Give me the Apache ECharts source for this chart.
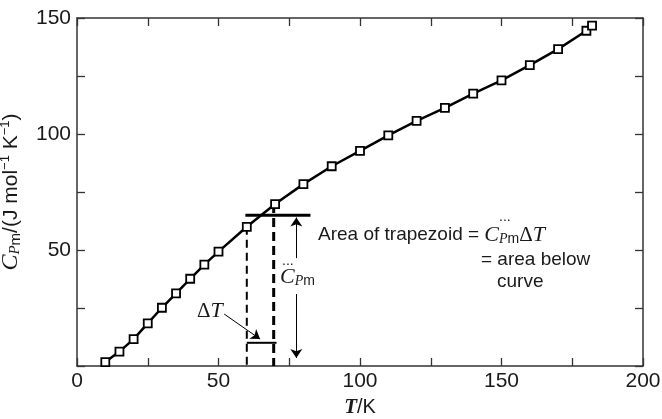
<!DOCTYPE html>
<html><head><meta charset="utf-8">
<script src="https://cdn.jsdelivr.net/npm/echarts@6/dist/echarts.min.js"></script>
<style>html,body{margin:0;padding:0;background:#fff}#c{width:662px;height:419px}</style>
</head><body><div id="c"></div>
<script>
// ---- data ----
const temperatures = [10,15,20,25,30,35,40,45,50,60,70,80,90,100,110,120,130,140,150,160,170,180,182];
const heatCapacity = [1.7,6.2,11.6,18.4,25.1,31.3,37.6,43.7,49.3,60.0,69.8,78.4,86.1,92.7,99.4,105.7,111.3,117.4,123.1,129.7,136.6,144.5,146.7];
const xTickLabels = [0,50,100,150,200];
const yTickLabels = [50,100,150];
// annotation geometry (data units)
const trapezoidTop = [[59.5,65],[82.5,65]];
const lowerEdge = [[60,60],[60,0]];
const upperEdge = [[69.5,69.8],[69.5,0]];
const deltaTBar = [[60,10],[70.5,10]];
const cArrowUp = [[77.5,46.5],[77.5,64]];
const cArrowDown = [[77.5,31],[77.5,3.5]];
const dTArrow = [[52,22.4],[64.7,11.6]];

const SANS = 'Liberation Sans, Arial, sans-serif';
const SERIF = 'Liberation Serif, Times New Roman, serif';
const AX = '#333';
const TXT = '#1a1a1a';
const chart = echarts.init(document.getElementById('c'), null, {renderer:'canvas'});

function xAxisDef(pos, labels) {
  return {
    type:'value', position:pos, min:0, max:200, interval:25,
    axisLine:{show:true, onZero:false, lineStyle:{color:AX, width:1.5}},
    axisTick:{show:true, inside:true, length:8, lineStyle:{color:AX, width:1.3}},
    splitLine:{show:false},
    axisLabel:{show:labels, margin:5, color:TXT, fontFamily:SANS, fontSize:21,
      formatter:v => xTickLabels.includes(v) ? String(v) : ''},
    name: labels ? '{t|T}{n|/K}' : '',
    nameLocation:'middle', nameGap:30,
    nameTextStyle:{rich:{
      t:{fontFamily:SERIF, fontStyle:'italic', fontWeight:'bold', fontSize:21, color:TXT},
      n:{fontFamily:SANS, fontSize:20, color:TXT}}}
  };
}
function yAxisDef(pos, labels) {
  return {
    type:'value', position:pos, min:0, max:150, interval:25,
    axisLine:{show:true, onZero:false, lineStyle:{color:AX, width:1.5}},
    axisTick:{show:true, inside:true, length:8, lineStyle:{color:AX, width:1.3}},
    splitLine:{show:false},
    axisLabel:{show:labels, margin:6, color:TXT, fontFamily:SANS, fontSize:21,
      formatter:v => yTickLabels.includes(v) ? String(v) : ''},
    name: labels ? '{c|C}{s|P}{m|m}{n|/(J mol}{p|−1}{n| K}{p|−1}{n|)}' : '',
    nameLocation:'middle', nameGap:54, nameRotate:90,
    nameTextStyle:{rich:{
      c:{fontFamily:SERIF, fontStyle:'italic', fontSize:24, color:TXT},
      s:{fontFamily:SERIF, fontStyle:'italic', fontSize:15, color:TXT, verticalAlign:'bottom'},
      m:{fontFamily:SANS, fontSize:15, color:TXT, verticalAlign:'bottom'},
      n:{fontFamily:SANS, fontSize:21, color:TXT},
      p:{fontFamily:SANS, fontSize:13, color:TXT, verticalAlign:'top'}}}
  };
}
function seg(data, width, type) {
  return {type:'line', data:data, symbol:'none', silent:true, animation:false,
    lineStyle:{color:'#000', width:width, type:type||'solid', cap:'butt'}, z:2};
}
function arrow(pts) {
  return [{coord:pts[0], symbol:'none'}, {coord:pts[1], symbol:'arrow'}];
}

const option = {
  animation:false,
  grid:{left:77, right:19, top:18, bottom:53, containLabel:false, outerBoundsMode:'none'},
  xAxis:[xAxisDef('bottom', true), xAxisDef('top', false)],
  yAxis:[yAxisDef('left', true), yAxisDef('right', false)],
  series:[
    seg(trapezoidTop, 3),
    seg(lowerEdge, 2, [8,5]),
    seg(upperEdge, 3, [9,5]),
    seg(deltaTBar, 2),
    {type:'line', data:[], silent:true, animation:false,
      markLine:{silent:true, animation:false, symbolSize:9,
        label:{show:false}, lineStyle:{color:'#000', width:1, type:'solid'},
        emphasis:{disabled:true},
        data:[arrow(cArrowUp), arrow(cArrowDown), arrow(dTArrow)]}},
    {type:'line', data:temperatures.map((t,i)=>[t, heatCapacity[i]]),
      symbol:'rect', symbolSize:8, showAllSymbol:true, z:5,
      lineStyle:{color:'#000', width:2.5},
      itemStyle:{color:'#fff', borderColor:'#000', borderWidth:1.8},
      emphasis:{disabled:true}}
  ],
  graphic:[
    {type:'text', left:318, top:224, style:{
      text:'{n|Area of trapezoid = }{c|C}{s|P}{m|m}{d|Δ}{t|T}',
      rich:{
        n:{fontFamily:SANS, fontSize:19, fill:TXT},
        c:{fontFamily:SERIF, fontStyle:'italic', fontSize:22, fill:TXT},
        s:{fontFamily:SERIF, fontStyle:'italic', fontSize:14, fill:TXT, verticalAlign:'bottom'},
        m:{fontFamily:SANS, fontSize:14, fill:TXT, verticalAlign:'bottom'},
        d:{fontFamily:SERIF, fontSize:21, fill:TXT},
        t:{fontFamily:SERIF, fontStyle:'italic', fontSize:22, fill:TXT}}}},
    {type:'text', left:499, top:210, style:{text:'...', fontFamily:SANS, fontSize:14, fill:TXT}},
    {type:'text', left:481, top:250, style:{text:'= area below', fontFamily:SANS, fontSize:19, fill:TXT}},
    {type:'text', left:497, top:272, style:{text:'curve', fontFamily:SANS, fontSize:19, fill:TXT}},
    {type:'text', left:280, top:266, style:{
      text:'{c|C}{s|P}{m|m}',
      rich:{
        c:{fontFamily:SERIF, fontStyle:'italic', fontSize:22, fill:TXT},
        s:{fontFamily:SERIF, fontStyle:'italic', fontSize:14, fill:TXT, verticalAlign:'bottom'},
        m:{fontFamily:SANS, fontSize:14, fill:TXT, verticalAlign:'bottom'}}}},
    {type:'text', left:282, top:254, style:{text:'...', fontFamily:SANS, fontSize:14, fill:TXT}},
    {type:'text', left:197, top:300, style:{
      text:'{d|Δ}{t|T}',
      rich:{
        d:{fontFamily:SERIF, fontSize:21, fill:TXT},
        t:{fontFamily:SERIF, fontStyle:'italic', fontSize:22, fill:TXT}}}}
  ]
};
chart.setOption(option);
</script></body></html>
